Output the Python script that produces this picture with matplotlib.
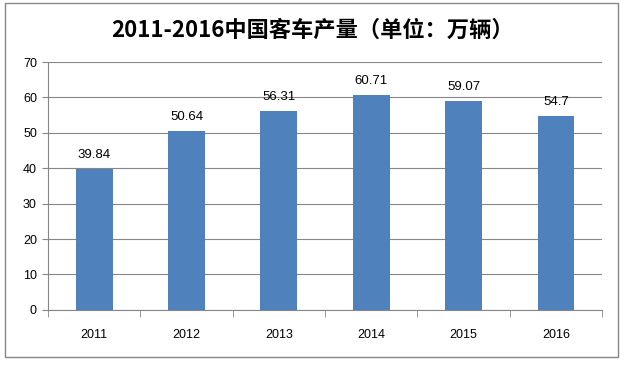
import matplotlib.pyplot as plt
from matplotlib.patches import Rectangle

plt.rcParams['font.family'] = ['Noto Sans CJK SC', 'DejaVu Sans']

# 数据
years = ['2011', '2012', '2013', '2014', '2015', '2016']
output = [39.84, 50.64, 56.31, 60.71, 59.07, 54.7]
value_labels = ['39.84', '50.64', '56.31', '60.71', '59.07', '54.7']

fig = plt.figure(figsize=(6.24, 3.65), dpi=100)
ax = fig.add_axes([0.077, 0.151, 0.888, 0.679])

x = range(len(years))
ax.bar(x, output, width=0.4, color='#4F81BD', zorder=3)
for xi, v, lab in zip(x, output, value_labels):
    ax.text(xi, v + 2.2, lab, ha='center', va='bottom', fontsize=9.5, color='#000000',
            family=['Liberation Sans', 'DejaVu Sans'])

ax.set_xlim(-0.5, len(years) - 0.5)
ax.set_ylim(0, 70)
ax.set_yticks(range(0, 71, 10))
ax.set_xticks(list(x))
ax.set_xticklabels(years)
ax.set_xticks([i + 0.5 for i in range(-1, len(years))], minor=True)
ax.tick_params(axis='x', which='major', length=0, pad=14, labelsize=9)
ax.tick_params(axis='x', which='minor', length=5, color='#868686', direction='out')
ax.tick_params(axis='y', length=4, color='#868686', labelsize=9, pad=4)
for lab in ax.get_xticklabels() + ax.get_yticklabels():
    lab.set_family(['Liberation Sans', 'DejaVu Sans'])

ax.grid(axis='y', color='#868686', linewidth=0.8, zorder=0)
for s in ['top', 'right']:
    ax.spines[s].set_visible(False)
for s in ['left', 'bottom']:
    ax.spines[s].set_color('#868686')

fig.text(0.5, 0.918, '2011-2016中国客车产量（单位：万辆）', ha='center', va='center',
         fontsize=16, fontweight='bold')

# 外框
fig.patches.append(Rectangle((5 / 624, 8 / 365), 613 / 624, 354 / 365, transform=fig.transFigure,
                             fill=False, edgecolor='#868686', linewidth=1))

fig.savefig('out.png', dpi=100)
